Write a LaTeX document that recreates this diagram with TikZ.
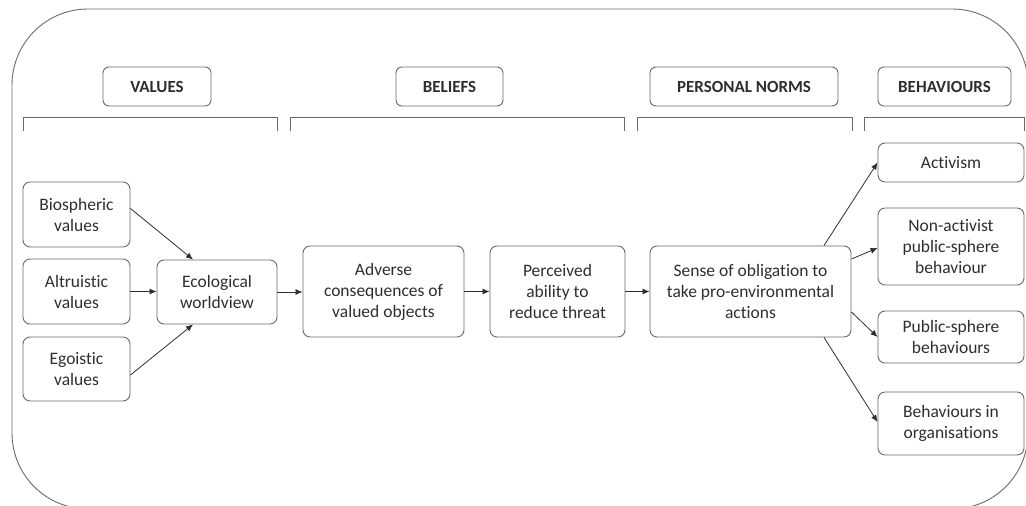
\documentclass[tikz,border=0pt]{standalone}
\usepackage{fontspec}
\setmainfont{Carlito}[Ligatures=NoCommon]
\usetikzlibrary{arrows.meta}
\definecolor{boxline}{HTML}{6A6A6A}
\definecolor{txt}{HTML}{2E2E2E}
\begin{document}
\begin{tikzpicture}[x=1pt,y=1pt,
  box/.style={draw=boxline,line width=0.9pt,rounded corners=7pt,align=center,inner sep=0pt,
    text=txt,font=\fontsize{17.5}{21}\selectfont},
  hdr/.style={box,rounded corners=6pt,minimum height=39pt,font=\bfseries\fontsize{17}{20}\selectfont},
  conn/.style={draw=txt,line width=0.8pt,-{Latex[length=7pt,width=6pt]}},
  brk/.style={draw=boxline,line width=0.9pt}]
\useasboundingbox (0,0) rectangle (1026,-506);
\begin{scope}
\clip (0,0) rectangle (1026,-506);
\draw[boxline,line width=0.9pt,rounded corners=76pt] (12,-9) rectangle (1028,-509);
\end{scope}
% headers
\node[hdr,minimum width=108pt] (val) at (157,-86.5) {VALUES};
\node[hdr,minimum width=107pt] (bel) at (449.5,-86.5) {BELIEFS};
\node[hdr,minimum width=188pt] (pn) at (744,-86.5) {PERSONAL NORMS};
\node[hdr,minimum width=133pt] (beh) at (944.5,-86.5) {BEHAVIOURS};
% brackets
\draw[brk] (23,-131) -- (23,-117) -- (277,-117) -- (277,-131);
\draw[brk] (290,-131) -- (290,-117) -- (624,-117) -- (624,-131);
\draw[brk] (637,-131) -- (637,-117) -- (852,-117) -- (852,-131);
\draw[brk] (864,-131) -- (864,-117) -- (1024,-117) -- (1024,-131);
% nodes
\node[box,minimum width=107pt,minimum height=65pt] (bio) at (76.5,-214.5) {Biospheric\\values};
\node[box,minimum width=107pt,minimum height=65pt] (alt) at (76.5,-291.5) {Altruistic\\values};
\node[box,minimum width=107pt,minimum height=64pt] (ego) at (76.5,-369) {Egoistic\\values};
\node[box,minimum width=120pt,minimum height=64pt] (eco) at (217,-292) {Ecological\\worldview};
\node[box,minimum width=161pt,minimum height=91pt] (adv) at (383.5,-291.5) {Adverse\\consequences of\\valued objects};
\node[box,minimum width=135pt,minimum height=91pt] (per) at (557.5,-291.5) {Perceived\\ability to\\reduce threat};
\node[box,minimum width=201pt,minimum height=91pt] (sen) at (750.5,-291.5) {Sense of obligation to\\take pro-environmental\\actions};
\node[box,minimum width=146pt,minimum height=39pt] (act) at (951,-162.5) {Activism};
\node[box,minimum width=146pt,minimum height=77pt] (non) at (951,-246.5) {Non-activist\\public-sphere\\behaviour};
\node[box,minimum width=146pt,minimum height=52pt] (pub) at (951,-337) {Public-sphere\\behaviours};
\node[box,minimum width=146pt,minimum height=63pt] (org) at (951,-423.5) {Behaviours in\\organisations};
% connectors
\draw[conn] ([yshift=6pt]bio.east) -- ([xshift=-24pt]eco.north);
\draw[conn] (alt.east) -- (eco.west |- alt.east);
\draw[conn] ([yshift=-6pt]ego.east) -- ([xshift=-24pt]eco.south);
\draw[conn] (eco.east) -- (adv.west |- eco.east);
\draw[conn] (adv.east) -- (per.west);
\draw[conn] (per.east) -- (sen.west);
\draw[conn] ([xshift=73.5pt]sen.north) -- (act.west);
\draw[conn] ([yshift=32.5pt]sen.east) -- ([yshift=-1.5pt]non.west);
\draw[conn] ([yshift=-20.5pt]sen.east) -- (pub.west);
\draw[conn] ([xshift=73.5pt]sen.south) -- ([yshift=1.5pt]org.west);
\end{tikzpicture}
\end{document}
